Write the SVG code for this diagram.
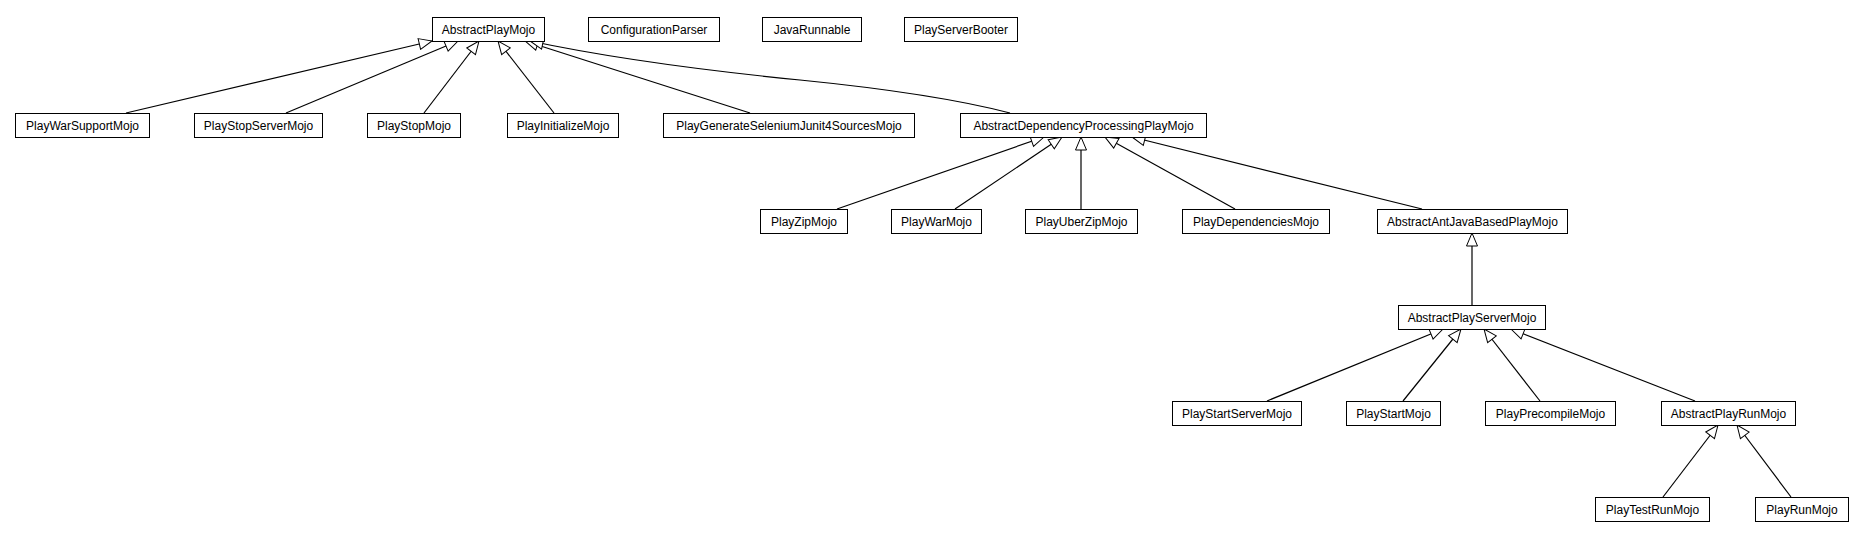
<svg xmlns="http://www.w3.org/2000/svg" width="1863" height="539" viewBox="0 0 1863 539">
<style>
.n rect{fill:#fff;stroke:#000;stroke-width:1}
.n text{font-family:"Liberation Sans",Arial,Helvetica,sans-serif;font-size:12px;fill:#000;text-anchor:middle}
.e path{fill:none;stroke:#000;stroke-width:1.2;marker-end:url(#tri)}
</style>
<defs>
<marker id="tri" viewBox="0 0 15 13" refX="14" refY="6.5" markerWidth="15" markerHeight="13" markerUnits="userSpaceOnUse" orient="auto">
<path d="M1,1 L14,6.5 L1,12 Z" fill="#fff" stroke="#000" stroke-width="1"/>
</marker>
</defs>
<rect width="1863" height="539" fill="#fff"/>
<g id="connectors" class="e">
<path d="M126,113 L432,41"/>
<path d="M286,113 L458,41"/>
<path d="M424,113 L479,41"/>
<path d="M554,113 L498,41"/>
<path d="M750,113 L525,41"/>
<path d="M1010,113 C960,100 900,90 800,80 C700,70 610,58 530,41"/>
<path d="M837,209 L1044,137"/>
<path d="M955,209 L1062,137"/>
<path d="M1081,209 L1081,137"/>
<path d="M1235,209 L1105,137"/>
<path d="M1422,209 L1132,137"/>
<path d="M1472,305 L1472,233"/>
<path d="M1267,401 L1443,329"/>
<path d="M1403,401 L1461,329"/>
<path d="M1540,401 L1484,329"/>
<path d="M1695,401 L1511,329"/>
<path d="M1663,497 L1718,425"/>
<path d="M1791,497 L1737,425"/>
</g>
<g id="AbstractPlayMojo" class="n"><rect x="432.5" y="17.5" width="112" height="24"/><text x="488.5" y="34">AbstractPlayMojo</text></g>
<g id="ConfigurationParser" class="n"><rect x="588.5" y="17.5" width="131" height="24"/><text x="654" y="34">ConfigurationParser</text></g>
<g id="JavaRunnable" class="n"><rect x="762.5" y="17.5" width="99" height="24"/><text x="812" y="34">JavaRunnable</text></g>
<g id="PlayServerBooter" class="n"><rect x="904.5" y="17.5" width="113" height="24"/><text x="961" y="34">PlayServerBooter</text></g>
<g id="PlayWarSupportMojo" class="n"><rect x="15.5" y="113.5" width="134" height="24"/><text x="82.5" y="130">PlayWarSupportMojo</text></g>
<g id="PlayStopServerMojo" class="n"><rect x="194.5" y="113.5" width="128" height="24"/><text x="258.5" y="130">PlayStopServerMojo</text></g>
<g id="PlayStopMojo" class="n"><rect x="367.5" y="113.5" width="93" height="24"/><text x="414" y="130">PlayStopMojo</text></g>
<g id="PlayInitializeMojo" class="n"><rect x="507.5" y="113.5" width="111" height="24"/><text x="563" y="130">PlayInitializeMojo</text></g>
<g id="PlayGenerateSeleniumJunit4SourcesMojo" class="n"><rect x="663.5" y="113.5" width="251" height="24"/><text x="789" y="130">PlayGenerateSeleniumJunit4SourcesMojo</text></g>
<g id="AbstractDependencyProcessingPlayMojo" class="n"><rect x="960.5" y="113.5" width="246" height="24"/><text x="1083.5" y="130">AbstractDependencyProcessingPlayMojo</text></g>
<g id="PlayZipMojo" class="n"><rect x="760.5" y="209.5" width="87" height="24"/><text x="804" y="226">PlayZipMojo</text></g>
<g id="PlayWarMojo" class="n"><rect x="891.5" y="209.5" width="90" height="24"/><text x="936.5" y="226">PlayWarMojo</text></g>
<g id="PlayUberZipMojo" class="n"><rect x="1025.5" y="209.5" width="112" height="24"/><text x="1081.5" y="226">PlayUberZipMojo</text></g>
<g id="PlayDependenciesMojo" class="n"><rect x="1182.5" y="209.5" width="147" height="24"/><text x="1256" y="226">PlayDependenciesMojo</text></g>
<g id="AbstractAntJavaBasedPlayMojo" class="n"><rect x="1377.5" y="209.5" width="190" height="24"/><text x="1472.5" y="226">AbstractAntJavaBasedPlayMojo</text></g>
<g id="AbstractPlayServerMojo" class="n"><rect x="1398.5" y="305.5" width="147" height="24"/><text x="1472" y="322">AbstractPlayServerMojo</text></g>
<g id="PlayStartServerMojo" class="n"><rect x="1172.5" y="401.5" width="129" height="24"/><text x="1237" y="418">PlayStartServerMojo</text></g>
<g id="PlayStartMojo" class="n"><rect x="1346.5" y="401.5" width="94" height="24"/><text x="1393.5" y="418">PlayStartMojo</text></g>
<g id="PlayPrecompileMojo" class="n"><rect x="1485.5" y="401.5" width="130" height="24"/><text x="1550.5" y="418">PlayPrecompileMojo</text></g>
<g id="AbstractPlayRunMojo" class="n"><rect x="1661.5" y="401.5" width="134" height="24"/><text x="1728.5" y="418">AbstractPlayRunMojo</text></g>
<g id="PlayTestRunMojo" class="n"><rect x="1595.5" y="497.5" width="114" height="24"/><text x="1652.5" y="514">PlayTestRunMojo</text></g>
<g id="PlayRunMojo" class="n"><rect x="1755.5" y="497.5" width="93" height="24"/><text x="1802" y="514">PlayRunMojo</text></g>
</svg>
